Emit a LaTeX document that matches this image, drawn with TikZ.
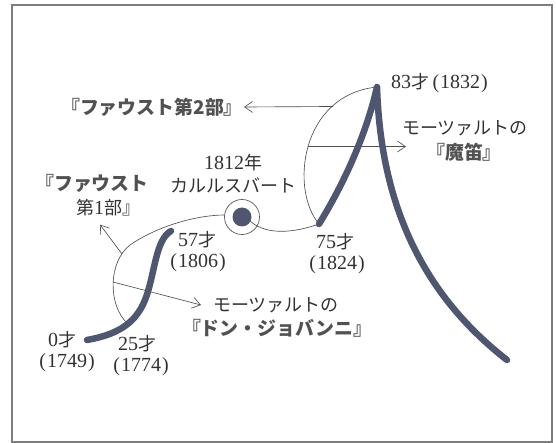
\documentclass[tikz,border=0pt]{standalone}
\usepackage{fontspec}
\setmainfont{Liberation Serif}
\newfontfamily\jpfont[Scale=0.9]{Noto Sans CJK JP}
\usetikzlibrary{arrows.meta}
\definecolor{thickc}{RGB}{78,86,112}
\definecolor{txtc}{RGB}{50,50,50}
\definecolor{thinc}{RGB}{80,80,80}
\definecolor{framec}{RGB}{125,125,125}
\newcommand\jt[1]{{\jpfont #1}}
\newcommand\yr[1]{(\kern1pt#1\kern1pt)}
\begin{document}
\begin{tikzpicture}[x=1pt,y=-1pt,
  lbl/.style={inner sep=0pt,text=txtc,font=\fontsize{20}{22}\selectfont},
  ttl/.style={inner sep=0pt,text=txtc!85,font=\fontsize{21}{23}\selectfont\bfseries},
  thinline/.style={draw=thinc,line width=0.65pt},
  thickline/.style={draw=thickc,line width=6.5pt,line cap=round,line join=round},
  arr/.style={thinline,-{Straight Barb[length=8pt,width=11pt,line width=0.65pt]}}]
\useasboundingbox (0,0) rectangle (556,443);
\draw[framec,line width=1.2pt] (12,5) rectangle (552,442);
% key points
\coordinate (p0) at (87,340);
\coordinate (p25) at (127,323);
\coordinate (p57) at (171,231);
\coordinate (pk) at (242,217);
\coordinate (p75) at (319,224);
\coordinate (p83) at (377,87);
\coordinate (pend) at (507,360);
\coordinate (ringL) at (225,215);
\coordinate (dotR) at (250,221);
% arrow starts on the thin arcs
\coordinate (a1) at (122,254);
\coordinate (a2) at (113,282);
\coordinate (a3) at (333,106.5);
\coordinate (a4) at (308,146.5);
% texts
\node[lbl,anchor=west] (t83) at (391,83) {83\jt{才}\,\yr{1832}};
\node[ttl,anchor=east] (f2) at (243,107) {\jt{『ファウスト第2部』}};
\node[lbl] (mz1) at (465,128) {\jt{モーツァルトの}};
\node[ttl] (mf) at (464,152) {\jt{『魔笛』}};
\node[lbl] (k1) at (233,163) {1812\jt{年}};
\node[lbl] (k2) at (233,185) {\jt{カルルスバート}};
\node[ttl,anchor=west] (f1a) at (35,183) {\jt{『ファウスト}};
\node[lbl] (f1b) at (108,208) {\jt{第}1\jt{部』}};
\node[lbl] (t57) at (197,240) {57\jt{才}};
\node[lbl] (y57) at (198,263) {\yr{1806}};
\node[lbl] (t0) at (62,340) {0\jt{才}};
\node[lbl] (y0) at (67,363) {\yr{1749}};
\node[lbl] (t25) at (137,344) {25\jt{才}};
\node[lbl] (y25) at (141,367) {\yr{1774}};
\node[lbl] (t75) at (335,242) {75\jt{才}};
\node[lbl] (y75) at (337,265) {\yr{1824}};
\node[lbl] (mz2) at (276,305) {\jt{モーツァルトの}};
\node[ttl] (dg) at (277,328) {\jt{『ドン・ジョバンニ』}};
% thin curves
\draw[thinline] (p25) .. controls (108,305) and (108,262) .. (130,245)
   .. controls (156,227) and (195,215) .. (ringL);
\draw[thinline] (dotR) .. controls (262,232) and (285,236) .. (p75);
\draw[thinline] (p75) .. controls (290,190) and (300,95) .. (p83);
% arrows
\draw[arr] (a1) -- ([shift={(-8,8)}]f1b.south);
\draw[arr] (a2) -- ([xshift=-12pt]mz2.west);
\draw[arr] (a3) -- ([xshift=1pt]f2.east);
\draw[arr] (a4) -- (406,146.5);
% thick curves
\draw[thickline] (p0) .. controls (115,335) and (135,325) .. (145,300)
   .. controls (155,275) and (155,240) .. (p57);
\draw[thickline] (p75) .. controls (340,190) and (365,140) .. (p83)
   .. controls (381,215) and (430,300) .. (pend);
% Karlsbad marker
\node[circle,draw=thinc,line width=0.65pt,minimum size=35pt,inner sep=0pt] (ring) at (pk) {};
\node[circle,fill=thickc,minimum size=19pt,inner sep=0pt] (dot) at (pk) {};
\end{tikzpicture}
\end{document}
